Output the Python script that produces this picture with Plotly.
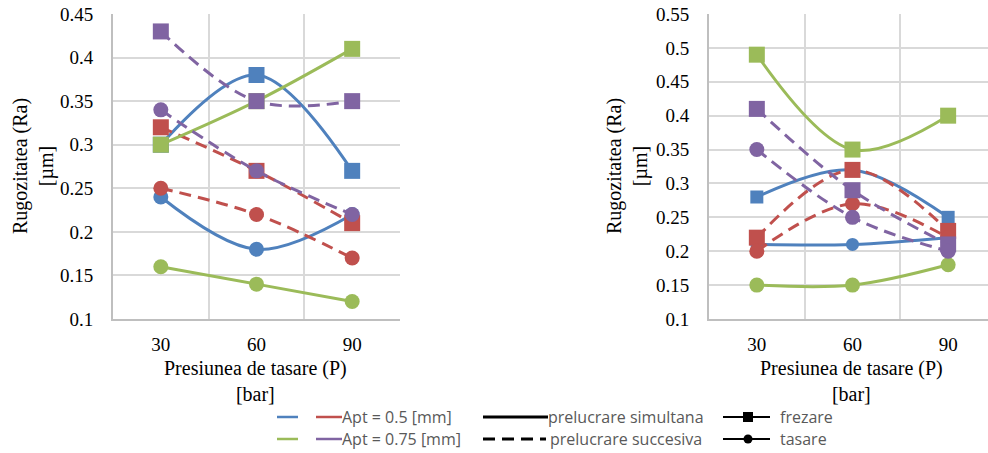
import plotly.graph_objects as go

W, H = 988, 453

# Pressure levels (x categories)
pressure = [30, 60, 90]
x_tick_labels = ["30", "60", "90"]

# Left chart: roughness Ra [um]
left_blue_frez = [0.30, 0.38, 0.27]
left_blue_tas = [0.24, 0.18, 0.22]
left_red_frez = [0.32, 0.27, 0.21]
left_red_tas = [0.25, 0.22, 0.17]
left_green_frez = [0.30, 0.35, 0.41]
left_green_tas = [0.16, 0.14, 0.12]
left_purple_frez = [0.43, 0.35, 0.35]
left_purple_tas = [0.34, 0.27, 0.22]

# Right chart: roughness Ra [um]
right_blue_frez = [0.28, 0.32, 0.25]
right_blue_tas = [0.21, 0.21, 0.22]
right_red_frez = [0.22, 0.32, 0.23]
right_red_tas = [0.20, 0.27, 0.22]
right_green_frez = [0.49, 0.35, 0.40]
right_green_tas = [0.15, 0.15, 0.18]
right_purple_frez = [0.41, 0.29, 0.21]
right_purple_tas = [0.35, 0.25, 0.20]

left_y_ticks = [0.1, 0.15, 0.2, 0.25, 0.3, 0.35, 0.4, 0.45]
left_y_labels = ["0.1", "0.15", "0.2", "0.25", "0.3", "0.35", "0.4", "0.45"]
right_y_ticks = [0.1, 0.15, 0.2, 0.25, 0.3, 0.35, 0.4, 0.45, 0.5, 0.55]
right_y_labels = ["0.1", "0.15", "0.2", "0.25", "0.3", "0.35", "0.4", "0.45", "0.5", "0.55"]

BLUE, RED, GREEN, PURPLE = "#4F81BD", "#C0504D", "#9BBB59", "#8064A2"
DASH = "12px,7px"
SERIF = "Liberation Serif"


def px(x):
    return x / W


def py(y):
    return 1 - y / H


fig = go.Figure()


def add_series(values, color, dash, symbol, xa, ya, size):
    fig.add_trace(go.Scatter(
        x=pressure, y=values, xaxis=xa, yaxis=ya,
        mode="lines+markers",
        line=dict(color=color, width=3, dash=dash, shape="spline", smoothing=1),
        marker=dict(color=color, symbol=symbol, size=size, line=dict(width=0)),
        showlegend=False, hoverinfo="skip",
    ))


left_series = [
    (left_blue_frez, BLUE, "solid", "square"),
    (left_blue_tas, BLUE, "solid", "circle"),
    (left_red_frez, RED, DASH, "square"),
    (left_red_tas, RED, DASH, "circle"),
    (left_green_frez, GREEN, "solid", "square"),
    (left_green_tas, GREEN, "solid", "circle"),
    (left_purple_frez, PURPLE, DASH, "square"),
    (left_purple_tas, PURPLE, DASH, "circle"),
]
right_series = [
    (right_blue_frez, BLUE, "solid", "square"),
    (right_blue_tas, BLUE, "solid", "circle"),
    (right_red_frez, RED, DASH, "square"),
    (right_red_tas, RED, DASH, "circle"),
    (right_green_frez, GREEN, "solid", "square"),
    (right_green_tas, GREEN, "solid", "circle"),
    (right_purple_frez, PURPLE, DASH, "square"),
    (right_purple_tas, PURPLE, DASH, "circle"),
]

for vals, col, dash, sym in left_series:
    add_series(vals, col, dash, sym, "x", "y", 16 if sym == "square" else 15)
for vals, col, dash, sym in right_series:
    small = col == BLUE
    size = (13 if small else 16) if sym == "square" else (13 if small else 15)
    add_series(vals, col, dash, sym, "x2", "y2", size)

ydom = [py(319), py(14)]
grid = "#D9D9D9"
axis_line = "#BFBFBF"


def tickfont():
    return dict(family=SERIF, size=19, color="#000000")


def xaxis_opts():
    return dict(
        tickvals=pressure, ticktext=x_tick_labels, showgrid=False,
        showline=True, linecolor=axis_line, linewidth=2, ticks="",
        tickfont=tickfont(), ticklabelstandoff=7, zeroline=False, automargin=False,
        minor=dict(tickvals=[45, 75, 105], showgrid=True, gridcolor=grid, gridwidth=2, ticks=""),
    )


def yaxis_opts():
    return dict(
        showgrid=True, gridcolor=grid, gridwidth=2, showline=True,
        linecolor=axis_line, linewidth=2, ticks="", tickfont=tickfont(),
        ticklabelstandoff=14, zeroline=False, automargin=False,
    )


fig.update_layout(
    width=W, height=H, autosize=False,
    margin=dict(l=0, r=0, t=0, b=0, pad=0),
    font=dict(family=SERIF, size=19, color="#000000"),
    paper_bgcolor="white", plot_bgcolor="white",
    xaxis=dict(domain=[px(113), px(400)], range=[15, 105], anchor="y", **xaxis_opts()),
    yaxis=dict(domain=ydom, range=[0.1, 0.45], tickvals=left_y_ticks,
               ticktext=left_y_labels, anchor="x", **yaxis_opts()),
    xaxis2=dict(domain=[px(709), 1.0], range=[15, 102.5], anchor="y2", **xaxis_opts()),
    yaxis2=dict(domain=ydom, range=[0.1, 0.55], tickvals=right_y_ticks,
                ticktext=right_y_labels, anchor="x2", **yaxis_opts()),
)

annotations = []
# Axis titles
for cx in (33, 627):
    annotations.append(dict(
        text="Rugozitatea (Ra)<br>[µm]", x=px(cx), y=py(166), xref="paper", yref="paper",
        textangle=-90, showarrow=False, xanchor="center", yanchor="middle",
        font=dict(family=SERIF, size=20, color="#000000"),
    ))
for cx in (255, 851):
    annotations.append(dict(
        text="Presiunea de tasare (P)<br>[bar]", x=px(cx), y=py(381), xref="paper", yref="paper",
        showarrow=False, xanchor="center", yanchor="middle",
        font=dict(family=SERIF, size=20, color="#000000"),
    ))

# Legend
legend_font = dict(family="Open Sans", size=16, color="#595959")
row1, row2 = 417, 439
shapes = []


def hline(x0, x1, y, color, width=2.5, dash="solid"):
    shapes.append(dict(type="line", xref="paper", yref="paper",
                       x0=px(x0), x1=px(x1), y0=py(y), y1=py(y),
                       line=dict(color=color, width=width, dash=dash)))


def label(text, x, y):
    annotations.append(dict(text=text, x=px(x), y=py(y), xref="paper", yref="paper",
                            showarrow=False, xanchor="left", yanchor="middle",
                            font=legend_font))


hline(277, 298, row1, BLUE)
hline(316, 342, row1, RED)
label("Apt = 0.5 [mm]", 340, row1)
hline(277, 298, row2, GREEN)
hline(316, 342, row2, PURPLE)
label("Apt = 0.75 [mm]", 340, row2)

hline(483, 548, row1, "#000000", 3)
label("prelucrare simultana", 546, row1)
hline(483, 546, row2, "#000000", 3, "12px,7px")
label("prelucrare succesiva", 548, row2)

hline(723, 770, row1, "#000000", 2)
shapes.append(dict(type="rect", xref="paper", yref="paper",
                   x0=px(743), x1=px(753), y0=py(row1 + 5), y1=py(row1 - 5),
                   fillcolor="#000000", line=dict(width=0)))
label("frezare", 778, row1)
hline(723, 770, row2, "#000000", 2)
shapes.append(dict(type="circle", xref="paper", yref="paper",
                   x0=px(743.5), x1=px(752.5), y0=py(row2 + 4.5), y1=py(row2 - 4.5),
                   fillcolor="#000000", line=dict(width=0)))
label("tasare", 778, row2)

fig.update_layout(annotations=annotations, shapes=shapes)

fig.write_html("out.html")
